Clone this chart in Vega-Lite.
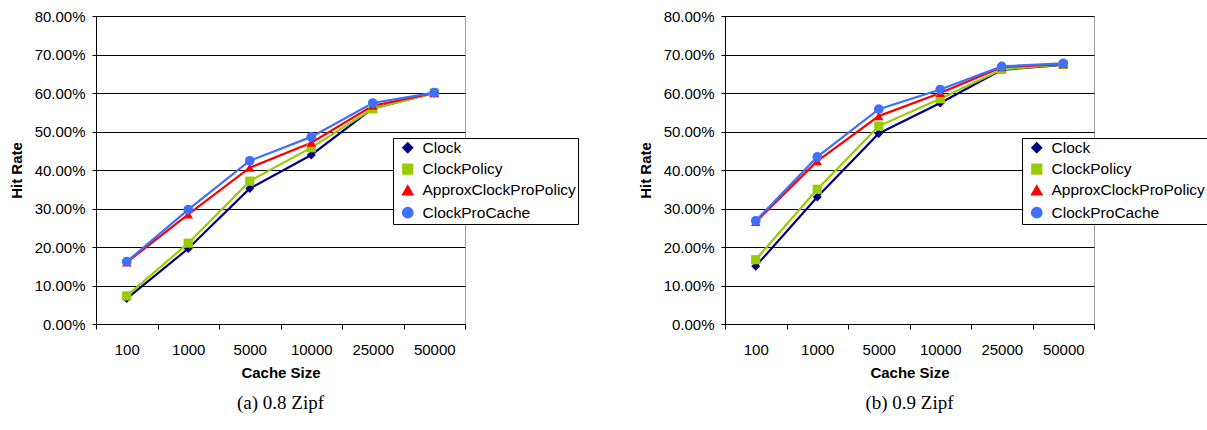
{
  "$schema": "https://vega.github.io/schema/vega-lite/v6.json",
  "background": "white",
  "padding": {"left": 8, "top": 8, "right": 0, "bottom": 0},
  "config": {
    "font": "Liberation Sans",
    "view": {"stroke": "#a0a0a0", "strokeWidth": 1},
    "axis": {
      "labelFont": "Liberation Sans",
      "labelFontSize": 15,
      "labelColor": "#000000",
      "titleFont": "Liberation Sans",
      "titleFontSize": 15,
      "titleFontWeight": "bold",
      "titleColor": "#000000",
      "domainColor": "#000000",
      "tickColor": "#000000",
      "gridColor": "#000000",
      "gridOpacity": 1
    },
    "legend": {
      "labelFont": "Liberation Sans",
      "labelFontSize": 15.5,
      "labelColor": "#000000"
    }
  },
  "data": {"values": [
    {"zipf": "0.8", "size": "100", "series": "Clock", "rate": 0.066},
    {"zipf": "0.8", "size": "1000", "series": "Clock", "rate": 0.196},
    {"zipf": "0.8", "size": "5000", "series": "Clock", "rate": 0.352},
    {"zipf": "0.8", "size": "10000", "series": "Clock", "rate": 0.439},
    {"zipf": "0.8", "size": "25000", "series": "Clock", "rate": 0.560},
    {"zipf": "0.8", "size": "50000", "series": "Clock", "rate": 0.600},
    {"zipf": "0.8", "size": "100", "series": "ClockPolicy", "rate": 0.073},
    {"zipf": "0.8", "size": "1000", "series": "ClockPolicy", "rate": 0.210},
    {"zipf": "0.8", "size": "5000", "series": "ClockPolicy", "rate": 0.371},
    {"zipf": "0.8", "size": "10000", "series": "ClockPolicy", "rate": 0.458},
    {"zipf": "0.8", "size": "25000", "series": "ClockPolicy", "rate": 0.559},
    {"zipf": "0.8", "size": "50000", "series": "ClockPolicy", "rate": 0.600},
    {"zipf": "0.8", "size": "100", "series": "ApproxClockProPolicy", "rate": 0.160},
    {"zipf": "0.8", "size": "1000", "series": "ApproxClockProPolicy", "rate": 0.285},
    {"zipf": "0.8", "size": "5000", "series": "ApproxClockProPolicy", "rate": 0.406},
    {"zipf": "0.8", "size": "10000", "series": "ApproxClockProPolicy", "rate": 0.471},
    {"zipf": "0.8", "size": "25000", "series": "ApproxClockProPolicy", "rate": 0.567},
    {"zipf": "0.8", "size": "50000", "series": "ApproxClockProPolicy", "rate": 0.600},
    {"zipf": "0.8", "size": "100", "series": "ClockProCache", "rate": 0.162},
    {"zipf": "0.8", "size": "1000", "series": "ClockProCache", "rate": 0.297},
    {"zipf": "0.8", "size": "5000", "series": "ClockProCache", "rate": 0.424},
    {"zipf": "0.8", "size": "10000", "series": "ClockProCache", "rate": 0.486},
    {"zipf": "0.8", "size": "25000", "series": "ClockProCache", "rate": 0.574},
    {"zipf": "0.8", "size": "50000", "series": "ClockProCache", "rate": 0.601},
    {"zipf": "0.9", "size": "100", "series": "Clock", "rate": 0.150},
    {"zipf": "0.9", "size": "1000", "series": "Clock", "rate": 0.330},
    {"zipf": "0.9", "size": "5000", "series": "Clock", "rate": 0.495},
    {"zipf": "0.9", "size": "10000", "series": "Clock", "rate": 0.574},
    {"zipf": "0.9", "size": "25000", "series": "Clock", "rate": 0.660},
    {"zipf": "0.9", "size": "50000", "series": "Clock", "rate": 0.673},
    {"zipf": "0.9", "size": "100", "series": "ClockPolicy", "rate": 0.167},
    {"zipf": "0.9", "size": "1000", "series": "ClockPolicy", "rate": 0.350},
    {"zipf": "0.9", "size": "5000", "series": "ClockPolicy", "rate": 0.514},
    {"zipf": "0.9", "size": "10000", "series": "ClockPolicy", "rate": 0.585},
    {"zipf": "0.9", "size": "25000", "series": "ClockPolicy", "rate": 0.661},
    {"zipf": "0.9", "size": "50000", "series": "ClockPolicy", "rate": 0.674},
    {"zipf": "0.9", "size": "100", "series": "ApproxClockProPolicy", "rate": 0.265},
    {"zipf": "0.9", "size": "1000", "series": "ApproxClockProPolicy", "rate": 0.423},
    {"zipf": "0.9", "size": "5000", "series": "ApproxClockProPolicy", "rate": 0.540},
    {"zipf": "0.9", "size": "10000", "series": "ApproxClockProPolicy", "rate": 0.600},
    {"zipf": "0.9", "size": "25000", "series": "ApproxClockProPolicy", "rate": 0.667},
    {"zipf": "0.9", "size": "50000", "series": "ApproxClockProPolicy", "rate": 0.675},
    {"zipf": "0.9", "size": "100", "series": "ClockProCache", "rate": 0.268},
    {"zipf": "0.9", "size": "1000", "series": "ClockProCache", "rate": 0.434},
    {"zipf": "0.9", "size": "5000", "series": "ClockProCache", "rate": 0.558},
    {"zipf": "0.9", "size": "10000", "series": "ClockProCache", "rate": 0.609},
    {"zipf": "0.9", "size": "25000", "series": "ClockProCache", "rate": 0.669},
    {"zipf": "0.9", "size": "50000", "series": "ClockProCache", "rate": 0.677}
  ]},
  "spacing": 58,
  "resolve": {"legend": {"color": "independent"}, "scale": {"color": "independent", "shape": "independent", "size": "independent"}},
  "hconcat": [
    {
      "title": {"text": "(a) 0.8 Zipf", "orient": "bottom", "font": "Liberation Serif", "fontSize": 19, "fontWeight": "normal", "color": "#000000", "offset": 14, "anchor": "middle", "frame": "group"},
      "width": 369,
      "height": 308,
      "transform": [{"filter": "datum.zipf === '0.8'"}, {"calculate": "datum.series", "as": "marker"}],
      "encoding": {
        "x": {"field": "size", "type": "ordinal", "sort": ["100", "1000", "5000", "10000", "25000", "50000"], "title": "Cache Size",
              "scale": {"type": "band", "paddingInner": 0, "paddingOuter": 0},
              "axis": {"labelAngle": 0, "tickBand": "extent", "tickSize": 5, "labelPadding": 13, "titlePadding": 8, "grid": false}},
        "y": {"field": "rate", "type": "quantitative", "title": "Hit Rate",
              "scale": {"domain": [0, 0.8], "nice": false},
              "axis": {"format": ".2%", "values": [0, 0.1, 0.2, 0.3, 0.4, 0.5, 0.6, 0.7, 0.8], "tickSize": 4, "labelPadding": 7, "titlePadding": 10, "grid": true}},
        "color": {"field": "series", "type": "nominal",
             "scale": {"domain": ["Clock", "ClockPolicy", "ApproxClockProPolicy", "ClockProCache"], "range": ["#000080", "#99CC00", "#FF0000", "#3F6FFF"]},
             "legend": {"title": null, "orient": "none", "legendX": 297, "legendY": 122, "strokeColor": "#000000", "fillColor": "#ffffff", "padding": 2, "rowPadding": 3.3, "symbolSize": 324, "symbolOffset": 5, "symbolStrokeWidth": 2, "labelOffset": 7}}
      },
      "layer": [
        {"mark": {"type": "line", "strokeWidth": 2.2}},
        {"mark": {"type": "point", "filled": true, "opacity": 1},
         "encoding": {
           "shape": {"field": "marker", "type": "nominal", "legend": null,
             "scale": {"domain": ["Clock", "ClockPolicy", "ApproxClockProPolicy", "ClockProCache"], "range": ["diamond", "square", "triangle-up", "circle"]}},
           "size": {"field": "marker", "type": "nominal", "legend": null,
             "scale": {"domain": ["Clock", "ClockPolicy", "ApproxClockProPolicy", "ClockProCache"], "range": [80, 95, 95, 135]}}
         }}
      ]
    },
    {
      "title": {"text": "(b) 0.9 Zipf", "orient": "bottom", "font": "Liberation Serif", "fontSize": 19, "fontWeight": "normal", "color": "#000000", "offset": 14, "anchor": "middle", "frame": "group"},
      "width": 369,
      "height": 308,
      "transform": [{"filter": "datum.zipf === '0.9'"}, {"calculate": "datum.series", "as": "marker"}],
      "encoding": {
        "x": {"field": "size", "type": "ordinal", "sort": ["100", "1000", "5000", "10000", "25000", "50000"], "title": "Cache Size",
              "scale": {"type": "band", "paddingInner": 0, "paddingOuter": 0},
              "axis": {"labelAngle": 0, "tickBand": "extent", "tickSize": 5, "labelPadding": 13, "titlePadding": 8, "grid": false}},
        "y": {"field": "rate", "type": "quantitative", "title": "Hit Rate",
              "scale": {"domain": [0, 0.8], "nice": false},
              "axis": {"format": ".2%", "values": [0, 0.1, 0.2, 0.3, 0.4, 0.5, 0.6, 0.7, 0.8], "tickSize": 4, "labelPadding": 7, "titlePadding": 10, "grid": true}},
        "color": {"field": "series", "type": "nominal",
             "scale": {"domain": ["Clock", "ClockPolicy", "ApproxClockProPolicy", "ClockProCache"], "range": ["#000080", "#99CC00", "#FF0000", "#3F6FFF"]},
             "legend": {"title": null, "orient": "none", "legendX": 297, "legendY": 122, "strokeColor": "#000000", "fillColor": "#ffffff", "padding": 2, "rowPadding": 3.3, "symbolSize": 324, "symbolOffset": 5, "symbolStrokeWidth": 2, "labelOffset": 7}}
      },
      "layer": [
        {"mark": {"type": "line", "strokeWidth": 2.2}},
        {"mark": {"type": "point", "filled": true, "opacity": 1},
         "encoding": {
           "shape": {"field": "marker", "type": "nominal", "legend": null,
             "scale": {"domain": ["Clock", "ClockPolicy", "ApproxClockProPolicy", "ClockProCache"], "range": ["diamond", "square", "triangle-up", "circle"]}},
           "size": {"field": "marker", "type": "nominal", "legend": null,
             "scale": {"domain": ["Clock", "ClockPolicy", "ApproxClockProPolicy", "ClockProCache"], "range": [80, 95, 95, 135]}}
         }}
      ]
    }
  ]
}
